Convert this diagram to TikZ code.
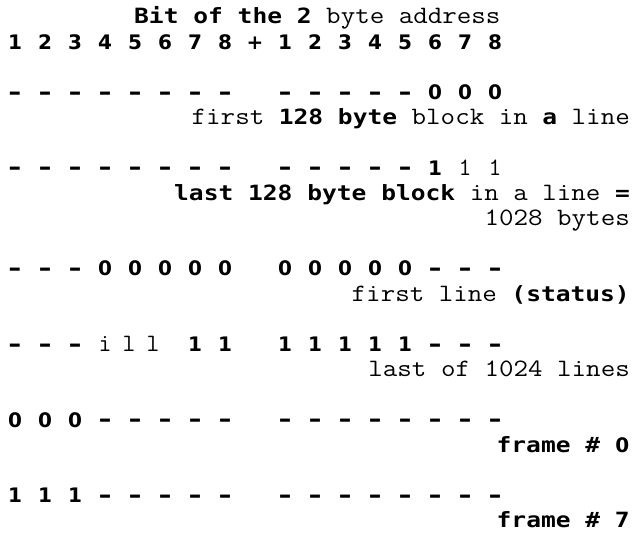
\documentclass[tikz,border=0pt]{standalone}
\usepackage{fontspec}
\usepackage{graphicx}
\newfontfamily\bsfont{DejaVu Sans}
\newfontfamily\bmfont{DejaVu Sans Mono}
\newcommand\Cr[1]{\scalebox{1.128}[1]{\ttfamily\fontsize{25}{25}\selectfont #1}}
\newcommand\Bm[1]{\scalebox{1.17}[1]{\bmfont\bfseries\fontsize{21}{25}\selectfont #1}}
\newcommand\Bz{\makebox[14.8pt]{\bsfont\bfseries\fontsize{20}{25}\selectfont 0}}
\newcommand\dsh{{\bsfont\bfseries\fontsize{25}{25}\selectfont\raisebox{-0.5pt}{–}}}
\begin{document}
\begin{tikzpicture}[x=1pt,y=-1pt,
  bit/.style={anchor=base,inner sep=0pt,font=\bsfont\bfseries\fontsize{20}{25}\selectfont},
  cbit/.style={anchor=base,inner sep=0pt,font=\ttfamily\fontsize{25}{25}\selectfont},
  lab/.style={anchor=base east,inner sep=0pt},
  labw/.style={anchor=base west,inner sep=0pt}]
\useasboundingbox (0,0) rectangle (633,534);
% title
\node[labw] (title) at (134,24) {\Bm{Bit of the 2}\Cr{ byte address}};
% digits row
\foreach \i/\t in {0/1,1/2,2/3,3/4,4/5,5/6,6/7,7/8,8/+,9/1,10/2,11/3,12/4,13/5,14/6,15/7,16/8}
  \node[bit] (d\i) at ({15+30*\i},49.2) {\t};
% row C
\foreach \i in {0,...,7,9,10,11,12,13} \node[bit] (c\i) at ({15+30*\i},99.6) {\dsh};
\foreach \i in {14,15,16} \node[bit] (c\i) at ({15+30*\i},99.6) {0};
\node[lab] (lc) at (630,124.8) {\Cr{first }\Bm{128 byte}\Cr{ block in }\Bm{a}\Cr{ line}};
% row D
\foreach \i in {0,...,7,9,10,11,12,13} \node[bit] (e\i) at ({15+30*\i},175.2) {\dsh};
\node[bit] (e14) at ({15+30*14},175.2) {1};
\foreach \i in {15,16} \node[cbit] (e\i) at ({15+30*\i},175.2) {1};
\node[lab] (le) at (630,200.4) {\Bm{last 128 byte block}\Cr{ in a line }\Bm{=}};
\node[lab] (le2) at (630,225.6) {\Cr{1028 bytes}};
% row E
\foreach \i in {0,1,2,14,15,16} \node[bit] (f\i) at ({15+30*\i},276) {\dsh};
\foreach \i in {3,...,7,9,10,11,12,13} \node[bit] (f\i) at ({15+30*\i},276) {0};
\node[lab] (lf) at (630,301.2) {\Cr{first line }\Bm{(status)}};
% row F
\foreach \i in {0,1,2,14,15,16} \node[bit] (g\i) at ({15+30*\i},351.6) {\dsh};
\foreach \i/\x/\t in {3/105/i,4/129/l,5/153/l} \node[cbit] (g\i) at (\x,351.6) {\t};
\foreach \i in {6,7,9,10,11,12,13} \node[bit] (g\i) at ({15+30*\i},351.6) {1};
\node[lab] (lg) at (630,376.8) {\Cr{last of 1024 lines}};
% row G
\foreach \i in {0,1,2} \node[bit] (h\i) at ({15+30*\i},427.2) {0};
\foreach \i in {3,...,7,9,10,...,16} \node[bit] (h\i) at ({15+30*\i},427.2) {\dsh};
\node[lab] (lh) at (630,452.4) {\Bm{frame \# }\Bz};
% row H
\foreach \i in {0,1,2} \node[bit] (k\i) at ({15+30*\i},502.8) {1};
\foreach \i in {3,...,7,9,10,...,16} \node[bit] (k\i) at ({15+30*\i},502.8) {\dsh};
\node[lab] (lk) at (630,528) {\Bm{frame \# 7}};
\end{tikzpicture}
\end{document}
